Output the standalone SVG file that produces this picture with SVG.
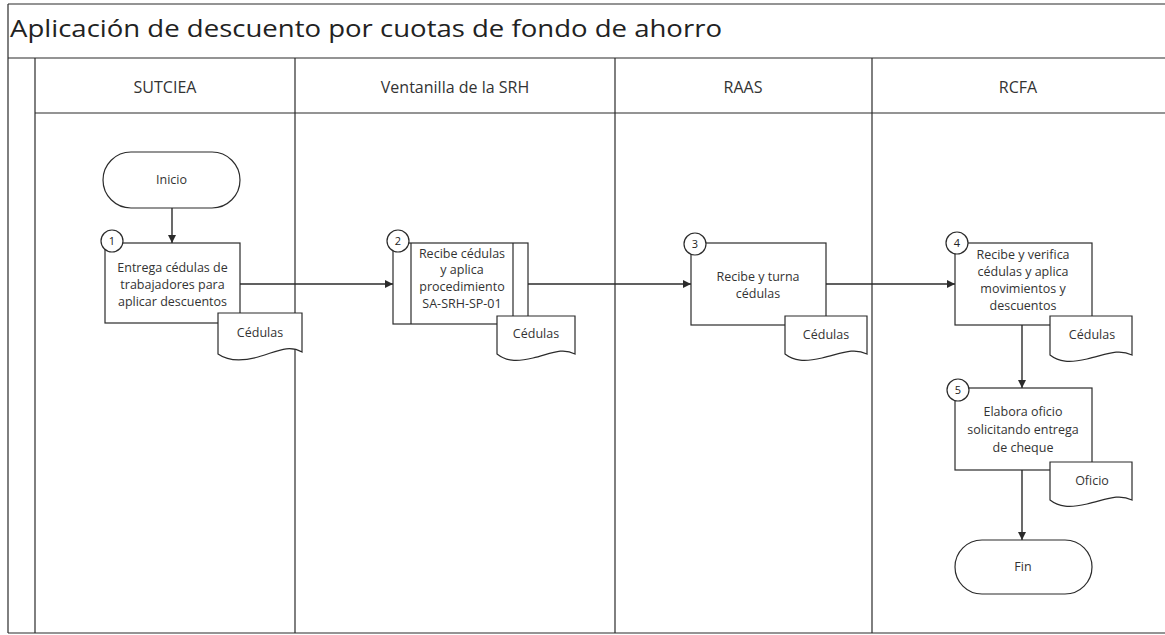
<svg xmlns="http://www.w3.org/2000/svg" width="1165" height="635" viewBox="0 0 1165 635">
<style>
  .frame { fill: none; stroke: #2b2b2b; stroke-width: 1.2; }
  .shape { fill: #ffffff; stroke: #2b2b2b; stroke-width: 1.2; }
  .conn { fill: none; stroke: #2b2b2b; stroke-width: 1.4; }
  .title { font-family: "Open Sans", "Noto Sans", sans-serif; font-size: 23px; fill: #222; }
  .lane { font-family: "Open Sans", "Noto Sans", sans-serif; font-size: 16px; fill: #333; text-anchor: middle; }
  .txt { font-family: "Open Sans", "Noto Sans", sans-serif; font-size: 12.5px; fill: #333; text-anchor: middle; }
  .num { font-family: "Open Sans", "Noto Sans", sans-serif; font-size: 11px; fill: #222; text-anchor: middle; }
</style>
<defs>
  <marker id="arrow" viewBox="0 0 10 10" refX="10" refY="5" markerWidth="8" markerHeight="8" markerUnits="userSpaceOnUse" orient="auto">
    <path d="M0,0 L10,5 L0,10 Z" fill="#2b2b2b"/>
  </marker>
</defs>
<rect width="1165" height="635" fill="#ffffff"/>

<g id="pool">
  <line class="frame" x1="8" y1="4" x2="1165" y2="4"/>
  <line class="frame" x1="8" y1="4" x2="8" y2="633"/>
  <line class="frame" x1="8" y1="633" x2="1165" y2="633"/>
  <line class="frame" x1="8" y1="58" x2="1165" y2="58"/>
  <line class="frame" x1="35" y1="113" x2="1165" y2="113"/>
  <line class="frame" x1="35" y1="58" x2="35" y2="633"/>
  <line class="frame" x1="295" y1="58" x2="295" y2="633"/>
  <line class="frame" x1="615" y1="58" x2="615" y2="633"/>
  <line class="frame" x1="872" y1="58" x2="872" y2="633"/>
  <text class="title" x="10" y="37" textLength="712" lengthAdjust="spacingAndGlyphs">Aplicación de descuento por cuotas de fondo de ahorro</text>
  <text class="lane" x="165" y="93">SUTCIEA</text>
  <text class="lane" x="455" y="93">Ventanilla de la SRH</text>
  <text class="lane" x="743" y="93">RAAS</text>
  <text class="lane" x="1018" y="93">RCFA</text>
</g>

<g id="connectors">
  <line class="conn" x1="172" y1="208" x2="172" y2="243" marker-end="url(#arrow)"/>
  <line class="conn" x1="240" y1="284" x2="393" y2="284" marker-end="url(#arrow)"/>
  <line class="conn" x1="528" y1="284" x2="691" y2="284" marker-end="url(#arrow)"/>
  <line class="conn" x1="826" y1="284" x2="955" y2="284" marker-end="url(#arrow)"/>
  <line class="conn" x1="1022" y1="325" x2="1022" y2="388" marker-end="url(#arrow)"/>
  <line class="conn" x1="1022" y1="470" x2="1022" y2="540" marker-end="url(#arrow)"/>
</g>

<g id="inicio">
  <rect class="shape" x="103" y="152" width="137" height="56" rx="28" ry="28"/>
  <text class="txt" x="171.5" y="184">Inicio</text>
</g>

<g id="step1">
  <rect class="shape" x="105" y="243" width="135" height="80"/>
  <text class="txt" x="172.5" y="272">Entrega cédulas de</text>
  <text class="txt" x="172.5" y="289">trabajadores para</text>
  <text class="txt" x="172.5" y="306">aplicar descuentos</text>
  <circle class="shape" cx="112" cy="241" r="11"/>
  <text class="num" x="112" y="245">1</text>
</g>
<g id="doc1">
  <path class="shape" d="M218,313 H302 V352 C288,344 276,352 258,357 C240,362 228,361 218,354 Z"/>
  <text class="txt" x="260" y="337">Cédulas</text>
</g>

<g id="step2">
  <rect class="shape" x="393" y="243" width="135" height="81"/>
  <line class="frame" x1="411" y1="243" x2="411" y2="324"/>
  <line class="frame" x1="513" y1="243" x2="513" y2="324"/>
  <text class="txt" x="462" y="258">Recibe cédulas</text>
  <text class="txt" x="462" y="274">y aplica</text>
  <text class="txt" x="462" y="291">procedimiento</text>
  <text class="txt" x="462" y="308">SA-SRH-SP-01</text>
  <circle class="shape" cx="398" cy="241" r="11"/>
  <text class="num" x="398" y="245">2</text>
</g>
<g id="doc2">
  <path class="shape" d="M497,316 H575 V354 C562,347 550,354 533,358 C516,362 506,361 497,354 Z"/>
  <text class="txt" x="536" y="338">Cédulas</text>
</g>

<g id="step3">
  <rect class="shape" x="691" y="243" width="135" height="82"/>
  <text class="txt" x="758" y="281">Recibe y turna</text>
  <text class="txt" x="758" y="298">cédulas</text>
  <circle class="shape" cx="695" cy="244" r="11"/>
  <text class="num" x="695" y="248">3</text>
</g>
<g id="doc3">
  <path class="shape" d="M785,316 H867 V354 C853,347 840,354 822,358 C804,362 794,361 785,354 Z"/>
  <text class="txt" x="826" y="339">Cédulas</text>
</g>

<g id="step4">
  <rect class="shape" x="955" y="243" width="137" height="82"/>
  <text class="txt" x="1023" y="259">Recibe y verifica</text>
  <text class="txt" x="1023" y="276">cédulas y aplica</text>
  <text class="txt" x="1023" y="293">movimientos y</text>
  <text class="txt" x="1023" y="310">descuentos</text>
  <circle class="shape" cx="957" cy="243" r="11"/>
  <text class="num" x="957" y="247">4</text>
</g>
<g id="doc4">
  <path class="shape" d="M1050,316 H1132 V355 C1118,348 1105,355 1087,359 C1069,363 1059,362 1050,355 Z"/>
  <text class="txt" x="1092" y="339">Cédulas</text>
</g>

<g id="step5">
  <rect class="shape" x="955" y="388" width="137" height="82"/>
  <text class="txt" x="1023" y="416">Elabora oficio</text>
  <text class="txt" x="1023" y="434">solicitando entrega</text>
  <text class="txt" x="1023" y="452">de cheque</text>
  <circle class="shape" cx="958" cy="390" r="11"/>
  <text class="num" x="958" y="394">5</text>
</g>
<g id="doc5">
  <path class="shape" d="M1050,462 H1132 V500 C1118,493 1105,500 1087,504 C1069,508 1059,507 1050,500 Z"/>
  <text class="txt" x="1092" y="485">Oficio</text>
</g>

<g id="fin">
  <rect class="shape" x="955" y="540" width="137" height="54" rx="27" ry="27"/>
  <text class="txt" x="1023" y="571">Fin</text>
</g>
</svg>
